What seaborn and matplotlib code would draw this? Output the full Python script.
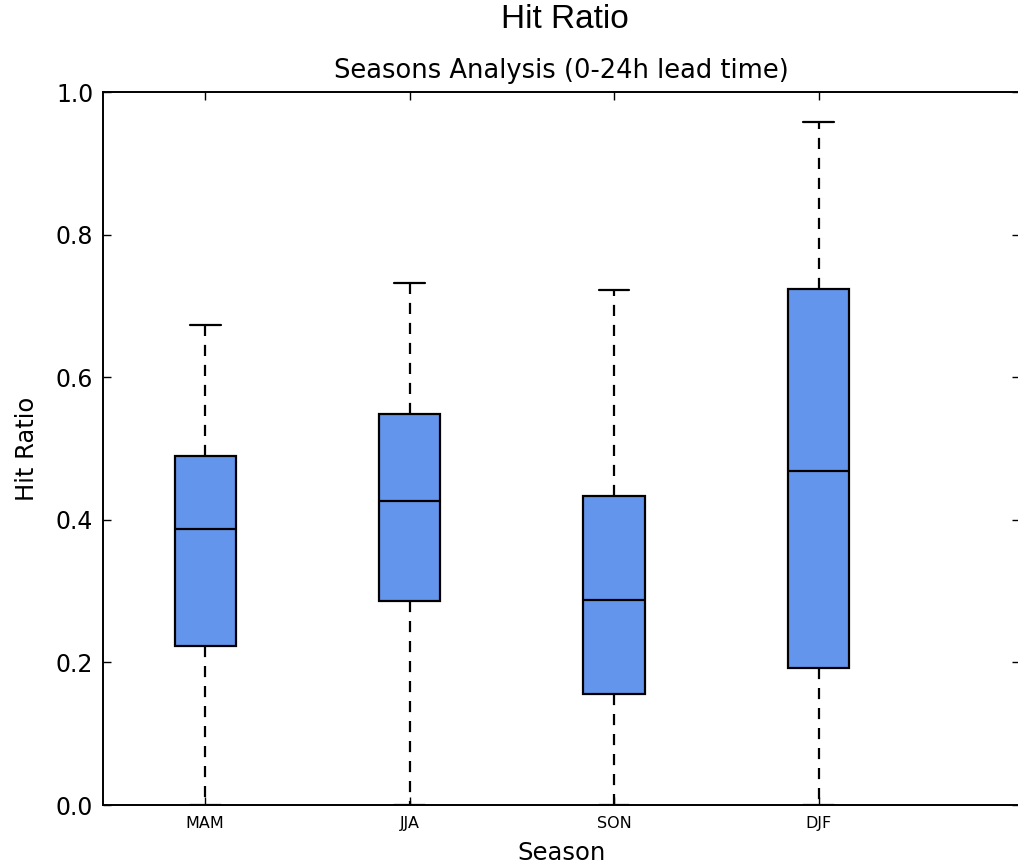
import matplotlib
matplotlib.use("Agg")
import matplotlib.pyplot as plt
import seaborn as sns
import pandas as pd

seasons = ["MAM", "JJA", "SON", "DJF"]
# five-number summaries: min, Q1, median, Q3, max
mam = [0.0, 0.223, 0.387, 0.489, 0.673]
jja = [0.0, 0.286, 0.426, 0.548, 0.732]
son = [0.0, 0.155, 0.288, 0.433, 0.722]
djf = [0.0, 0.192, 0.468, 0.724, 0.958]
yticks = [0.0, 0.2, 0.4, 0.6, 0.8, 1.0]

sns.set_theme(style="white")
plt.rcParams["font.family"] = ["DejaVu Sans"]
for k in ["text.color", "axes.labelcolor", "xtick.color", "ytick.color", "axes.edgecolor"]:
    plt.rcParams[k] = "black"

rows = []
for name, vals in zip(seasons, [mam, jja, son, djf]):
    for v in vals:
        rows.append({"Season": name, "Hit Ratio": v})
df = pd.DataFrame(rows)

fig = plt.figure(figsize=(10.18, 8.63), dpi=100)
ax = fig.add_axes([103 / 1018, (863 - 805) / 863, (1020 - 103) / 1018, (805 - 92) / 863])

sns.boxplot(
    data=df, x="Season", y="Hit Ratio", order=seasons, ax=ax,
    width=0.3, whis=(0, 100), color="#6495ED", saturation=1,
    linecolor="black", linewidth=1.5,
    boxprops=dict(facecolor="#6495ED", edgecolor="black", linewidth=1.6),
    whiskerprops=dict(color="black", linestyle=(0, (5, 4)), linewidth=1.6),
    capprops=dict(color="black", linewidth=1.6),
    medianprops=dict(color="black", linewidth=1.6),
    showfliers=False,
)

ax.set_xlim(-0.5, 3.985)
ax.set_ylim(0, 1.0)
ax.set_yticks(yticks)
ax.set_yticklabels([f"{t:.1f}" for t in yticks], fontsize=17)
ax.tick_params(axis="x", labelsize=11.5, pad=8)
ax.tick_params(axis="both", direction="in", length=6, width=1, top=True, right=True,
               bottom=True, left=True, color="black")
ax.tick_params(axis="y", pad=7)
for s in ax.spines.values():
    s.set_visible(True)
    s.set_color("black")
    s.set_linewidth(1.4)

ax.set_xlabel("Season", fontsize=17.5, labelpad=7)
ax.set_ylabel("Hit Ratio", fontsize=17.5, labelpad=12)
ax.set_title("Seasons Analysis (0-24h lead time)", fontsize=18.5, pad=10)
fig.suptitle("Hit Ratio", fontsize=24, family=["Liberation Sans"], y=0.995, va="top", x=0.555)

fig.savefig("out.png", dpi=100)
